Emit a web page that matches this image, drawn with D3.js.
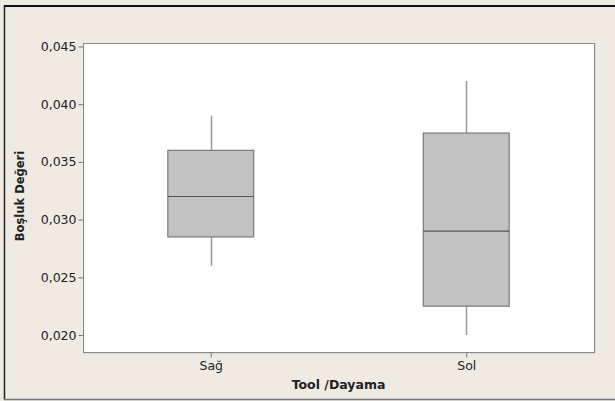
<!DOCTYPE html>
<html>
<head>
<meta charset="utf-8">
<script src="https://cdn.jsdelivr.net/npm/d3@7"></script>
<style>
  html, body { margin: 0; padding: 0; background: #efebe2; }
  svg { display: block; }
  text { font-family: "DejaVu Sans", Verdana, sans-serif; fill: #222; }
</style>
</head>
<body>
<svg id="chart" width="615" height="401"></svg>
<script>
// Groups on the x axis
const categories = ["Sağ", "Sol"];
// Five-number summaries per group
const whiskerLow  = [0.026, 0.020];
const q1          = [0.0285, 0.0225];
const medians     = [0.032, 0.029];
const q3          = [0.036, 0.0375];
const whiskerHigh = [0.039, 0.042];
// Y axis ticks
const yTicks = [0.020, 0.025, 0.030, 0.035, 0.040, 0.045];

const svg = d3.select("#chart");
const W = 615, H = 401;
const plot = { left: 83, top: 43, right: 594, bottom: 352 };

// Outer frame
svg.append("rect").attr("x", 0).attr("y", 0).attr("width", W).attr("height", H).attr("fill", "#efebe2");
svg.append("line").attr("x1", 4).attr("x2", W).attr("y1", 6).attr("y2", 6)
  .attr("stroke", "#111").attr("stroke-width", 2);
svg.append("line").attr("x1", 4.5).attr("x2", 4.5).attr("y1", 5).attr("y2", 400)
  .attr("stroke", "#222").attr("stroke-width", 1.5);
svg.append("line").attr("x1", 4).attr("x2", W).attr("y1", 399.5).attr("y2", 399.5)
  .attr("stroke", "#777").attr("stroke-width", 1.5);

const x = d3.scalePoint().domain(categories).range([plot.left, plot.right]).padding(0.5);
const y = d3.scaleLinear().domain([0.01853, 0.0453]).range([plot.bottom, plot.top]);

// Plot panel
svg.append("rect")
  .attr("x", plot.left + 1).attr("y", plot.top + 1)
  .attr("width", plot.right - plot.left).attr("height", plot.bottom - plot.top)
  .attr("fill", "none").attr("stroke", "#ccc").attr("stroke-width", 1);
svg.append("rect")
  .attr("x", plot.left + 0.5).attr("y", plot.top + 0.5)
  .attr("width", plot.right - plot.left).attr("height", plot.bottom - plot.top)
  .attr("fill", "#fff").attr("stroke", "#8a8a8a").attr("stroke-width", 1);

const fmt = d => d3.format(".3f")(d).replace(".", ",");

// Y axis
const yAxis = svg.append("g").attr("transform", `translate(${plot.left + 0.5},0)`)
  .call(d3.axisLeft(y).tickValues(yTicks).tickFormat(fmt).tickSize(5).tickPadding(2));
yAxis.select(".domain").remove();
yAxis.selectAll(".tick line").attr("stroke", "#777");
yAxis.selectAll(".tick text").attr("font-size", 12.5).style("font-family", "DejaVu Sans").attr("fill", "#222");

// X axis
const xAxis = svg.append("g").attr("transform", `translate(0,${plot.bottom + 0.5})`)
  .call(d3.axisBottom(x).tickSize(5).tickPadding(4));
xAxis.select(".domain").remove();
xAxis.selectAll(".tick line").attr("stroke", "#777");
xAxis.selectAll(".tick text").attr("font-size", 12.5).style("font-family", "DejaVu Sans").attr("fill", "#222");

// Axis titles
svg.append("text")
  .attr("x", (plot.left + plot.right) / 2).attr("y", 389)
  .attr("text-anchor", "middle").attr("font-size", 12.5).attr("font-weight", "bold")
  .text("Tool /Dayama");
svg.append("text")
  .attr("transform", "translate(24,196) rotate(-90)")
  .attr("text-anchor", "middle").attr("font-size", 11.5).attr("font-weight", "bold")
  .text("Boşluk Değeri");

// Boxes
const boxW = x.step() * 0.336;
const data = categories.map((c, i) => ({
  c, lo: whiskerLow[i], q1: q1[i], med: medians[i], q3: q3[i], hi: whiskerHigh[i]
}));
const g = svg.append("g");
const b = g.selectAll("g.box").data(data).join("g").attr("class", "box");

b.append("line")
  .attr("x1", d => Math.round(x(d.c)) + 0.5).attr("x2", d => Math.round(x(d.c)) + 0.5)
  .attr("y1", d => y(d.hi)).attr("y2", d => y(d.q3))
  .attr("stroke", "#9a9a9a").attr("stroke-width", 1.5);
b.append("line")
  .attr("x1", d => Math.round(x(d.c)) + 0.5).attr("x2", d => Math.round(x(d.c)) + 0.5)
  .attr("y1", d => y(d.q1)).attr("y2", d => y(d.lo))
  .attr("stroke", "#9a9a9a").attr("stroke-width", 1.5);
b.append("rect")
  .attr("x", d => x(d.c) - boxW / 2).attr("width", boxW)
  .attr("y", d => y(d.q3)).attr("height", d => y(d.q1) - y(d.q3))
  .attr("fill", "#c2c2c2").attr("stroke", "#7a7a7a").attr("stroke-width", 1.2);
b.append("line")
  .attr("x1", d => x(d.c) - boxW / 2).attr("x2", d => x(d.c) + boxW / 2)
  .attr("y1", d => y(d.med)).attr("y2", d => y(d.med))
  .attr("stroke", "#555").attr("stroke-width", 1.2);
</script>
</body>
</html>
